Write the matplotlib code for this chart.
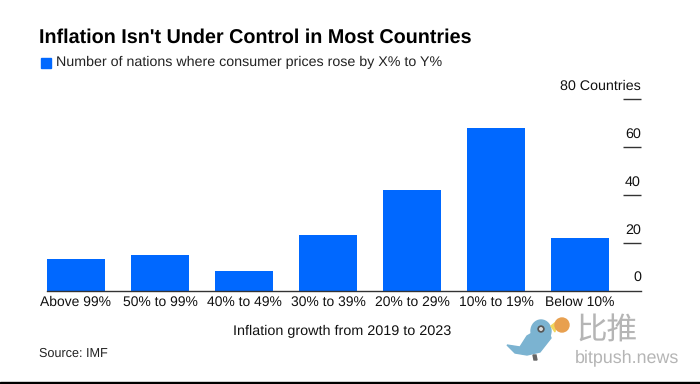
import matplotlib
matplotlib.use("Agg")
import matplotlib.pyplot as plt
from matplotlib.patches import Ellipse, Polygon, Rectangle
from matplotlib.transforms import ScaledTranslation

plt.rcParams['font.family'] = ['Liberation Sans', 'Noto Sans CJK SC', 'DejaVu Sans']
plt.rcParams['text.hinting'] = 'no_hinting'

categories = ["Above 99%", "50% to 99%", "40% to 49%", "30% to 39%", "20% to 29%", "10% to 19%", "Below 10%"]
counts = [13, 15, 8, 23, 42, 68, 22]
yticks = [0, 20, 40, 60, 80]
ytick_labels = ["0", "20", "40", "60", "80 Countries"]
title = "Inflation Isn't Under Control in Most Countries"
legend_label = "Number of nations where consumer prices rose by X% to Y%"
xlabel = "Inflation growth from 2019 to 2023"
source = "Source: IMF"

W, H = 700, 384
BLUE = "#0068ff"
fig = plt.figure(figsize=(W/100, H/100), dpi=100, facecolor="white")
ax = fig.add_axes([47/W, 1-290.5/H, (641-47)/W, (290.5-99)/H])
ax.patch.set_alpha(0)
ax.bar(range(len(categories)), counts, width=0.70, color=BLUE, zorder=2)
ax.set_xlim(-0.345, 6.726)
ax.set_ylim(0, 80)
for s in ["top", "left", "right"]:
    ax.spines[s].set_visible(False)
ax.spines["bottom"].set_color("#333333")
ax.spines["bottom"].set_linewidth(1.0)
ax.set_xticks(range(len(categories)))
ax.set_xticklabels(categories, fontsize=10.0, color="#111111")
ax.tick_params(axis="x", length=0, pad=3.5)
ax.yaxis.tick_right()
ax.set_yticks(yticks)
ax.set_yticklabels(ytick_labels, fontsize=10.3, color="#111111", ha="right", va="bottom")
ax.tick_params(axis="y", direction="in", length=13, width=1.0, color="#333333", pad=0)
ax.get_yticklines()[1].set_visible(False)
for lab in ax.get_yticklabels():
    lab.set_transform(lab.get_transform() + ScaledTranslation(0, 4.5/72, fig.dpi_scale_trans))

def px(x, y):
    return x/W, 1-y/H

tf = fig.transFigure
def ell(x, y, w, h, c):
    fig.patches.append(Ellipse(px(x, y), w/W, h/H, transform=tf, color=c))
def poly(pts, c):
    fig.patches.append(Polygon([px(*p) for p in pts], transform=tf, color=c))

fig.text(*px(39, 38), title, fontsize=14.2, fontweight="bold", color="black", va="center", ha="left")
fig.patches.append(Rectangle(px(41, 68), 10/W, 10/H, transform=tf, color=BLUE))
fig.text(*px(56, 62.5), legend_label, fontsize=10.3, color="#222222", va="center", ha="left")
fig.text(*px(342, 331), xlabel, fontsize=10.4, color="#111111", va="center", ha="center")
fig.text(*px(39, 353.5), source, fontsize=9.05, color="#222222", va="center", ha="left")
fig.patches.append(Rectangle((0, 0), 1, 2.5/H, transform=tf, color="black"))

# watermark
bird = "#7bb3d1"
poly([(507, 345), (520, 347), (527, 336), (546, 325), (551, 338), (540, 352), (527, 355), (515, 353)], bird)
ell(541, 331, 20, 22, bird)
poly([(533, 355), (536, 355), (537, 360), (534, 360)], "#666666")
ell(541, 329, 6, 6, "#555555")
ell(541, 329, 2.5, 2.5, "#dddddd")
poly([(551, 326), (556, 322), (555, 332)], "#f2d75c")
ell(562, 325, 14, 14, "#e8a04f")
fig.text(*px(576, 331), "比推", fontsize=22, color="#b5b5b5", va="center", ha="left", family=["Noto Sans CJK SC"])
fig.text(*px(575, 358), "bitpush.news", fontsize=12.9, color="#b5b5b5", va="center", ha="left")

fig.savefig("out.png", dpi=100, facecolor="white")
